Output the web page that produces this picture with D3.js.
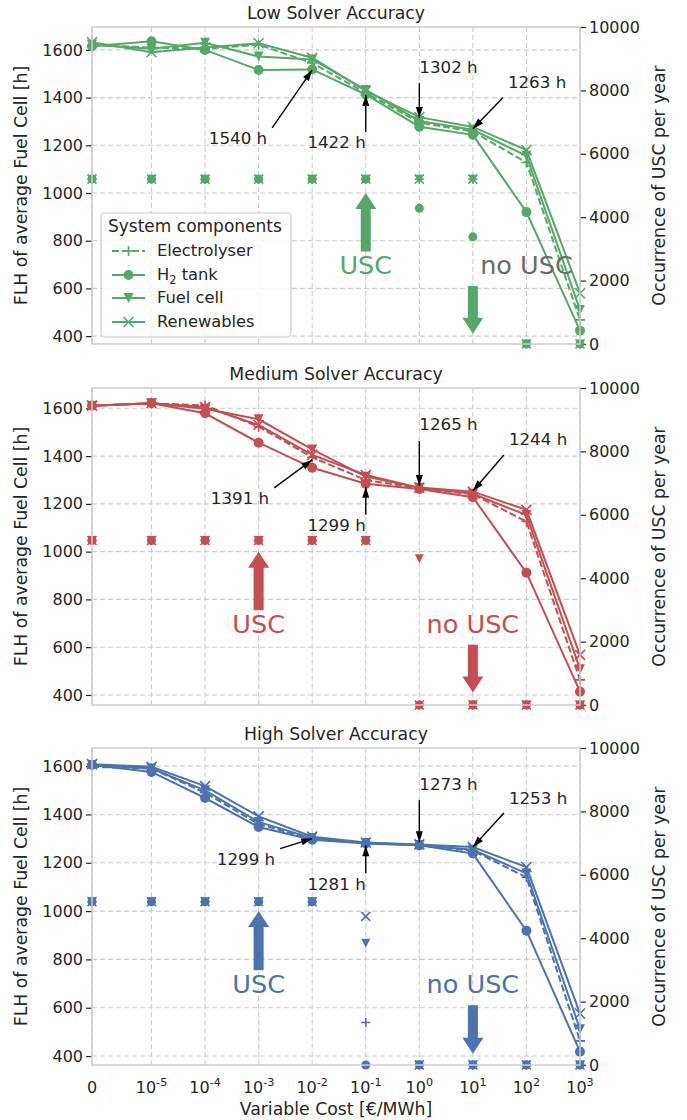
<!DOCTYPE html>
<html><head><meta charset="utf-8">
<script src="https://cdn.jsdelivr.net/npm/d3@7"></script>
<style>
body{margin:0;background:#fff}
svg{display:block}
text{font-family:"DejaVu Sans",sans-serif;fill:#262626}
</style>
</head><body>
<svg id="chart" width="687" height="1120"></svg>
<script>
// ---------------- DATA ----------------
const xValues = [0, 1e-5, 1e-4, 1e-3, 1e-2, 1e-1, 1, 10, 100, 1000];
const xTickBase = ["0", "10", "10", "10", "10", "10", "10", "10", "10", "10"];
const xTickExp = ["", "-5", "-4", "-3", "-2", "-1", "0", "1", "2", "3"];
const components = ["Electrolyser", "H2 tank", "Fuel cell", "Renewables"];
const panelTitles = ["Low Solver Accuracy", "Medium Solver Accuracy", "High Solver Accuracy"];
const leftTicks = [400, 600, 800, 1000, 1200, 1400, 1600];
const rightTicks = [0, 2000, 4000, 6000, 8000, 10000];

// FLH of average fuel cell [h]
const lowElectrolyser = [1620, 1610, 1605, 1622, 1545, 1420, 1295, 1258, 1128, 468];
const lowH2Tank       = [1615, 1636, 1600, 1516, 1518, 1413, 1278, 1244, 920, 423];
const lowFuelCell     = [1622, 1605, 1630, 1572, 1560, 1432, 1302, 1265, 1156, 510];
const lowRenewables   = [1632, 1590, 1610, 1628, 1567, 1428, 1318, 1277, 1180, 580];

const medElectrolyser = [1611, 1621, 1612, 1523, 1395, 1300, 1265, 1240, 1126, 463];
const medH2Tank       = [1611, 1621, 1579, 1456, 1351, 1284, 1262, 1228, 912, 414];
const medFuelCell     = [1611, 1621, 1598, 1554, 1428, 1314, 1267, 1242, 1153, 508];
const medRenewables   = [1611, 1621, 1605, 1530, 1405, 1321, 1268, 1251, 1175, 568];

const highElectrolyser = [1597, 1590, 1490, 1360, 1299, 1281, 1273, 1250, 1140, 463];
const highH2Tank       = [1605, 1576, 1468, 1348, 1295, 1280, 1272, 1238, 919, 418];
const highFuelCell     = [1605, 1590, 1500, 1369, 1302, 1282, 1274, 1254, 1156, 511];
const highRenewables   = [1608, 1597, 1517, 1392, 1308, 1284, 1276, 1265, 1182, 576];

// Occurrence of USC per year
const lowUscElectrolyser = [5200, 5200, 5200, 5200, 5200, 5200, 5200, 5200, 0, 0];
const lowUscH2Tank       = [5200, 5200, 5200, 5200, 5200, 5200, 4280, 3380, 0, 0];
const lowUscFuelCell     = [5200, 5200, 5200, 5200, 5200, 5200, 5200, 5200, 0, 0];
const lowUscRenewables   = [5200, 5200, 5200, 5200, 5200, 5200, 5200, 5200, 0, 0];

const medUscElectrolyser = [5190, 5190, 5190, 5190, 5190, 5190, 0, 0, 0, 0];
const medUscH2Tank       = [5190, 5190, 5190, 5190, 5190, 5190, 0, 0, 0, 0];
const medUscFuelCell     = [5190, 5190, 5190, 5190, 5190, 5190, 4610, 0, 0, 0];
const medUscRenewables   = [5190, 5190, 5190, 5190, 5190, 5190, 0, 0, 0, 0];

const highUscElectrolyser = [5150, 5150, 5150, 5150, 5150, 1340, 0, 0, 0, 0];
const highUscH2Tank       = [5150, 5150, 5150, 5150, 5150, 0, 0, 0, 0, 0];
const highUscFuelCell     = [5150, 5150, 5150, 5150, 5150, 3840, 0, 0, 0, 0];
const highUscRenewables   = [5150, 5150, 5150, 5150, 5150, 4690, 0, 0, 0, 0];

// annotations: x position, pointed value, label
const lowAnnotX = [1e-2, 1e-1, 1, 10];
const lowAnnotValue = [1516, 1411, 1314, 1269];
const lowAnnotLabel = ["1540 h", "1422 h", "1302 h", "1263 h"];
const medAnnotX = [1e-2, 1e-1, 1, 10];
const medAnnotValue = [1384, 1272, 1275, 1254];
const medAnnotLabel = ["1391 h", "1299 h", "1265 h", "1244 h"];
const highAnnotX = [1e-2, 1e-1, 1, 10];
const highAnnotValue = [1300, 1272, 1285, 1265];
const highAnnotLabel = ["1299 h", "1281 h", "1273 h", "1253 h"];

// USC / no USC markers (x category)
const uscArrowX = [1e-1, 1e-3, 1e-3];
const noUscArrowX = [10, 10, 10];
const noUscTextX = [100, 10, 10];

// ---------------- LAYOUT ----------------
const colors = ["#55a868", "#c44e52", "#4c72b0"];
const noUscTextColors = ["#6b6b6b", "#c44e52", "#4c72b0"];
const X0 = 92, X1 = 580;
const panelTop = [27, 388, 748];
const panelH = 317;
const leftDomains = [[367, 1696], [358, 1685], [363, 1675]];
// tail offsets of annotation arrows relative to head (px)
const annotTail = [
  [[-40, 58], [0, 37], [0, -35], [30, -31]],
  [[-38, 28], [0, 28], [0, -45], [31, -36]],
  [[-32, 10], [0, 28], [0, -42], [31, -34]]
];

const FS_TICK = 16, FS_LABEL = 17.3, FS_TITLE = 17.3, FS_ANN = 16.7, FS_LEG = 16.3, FS_BIG = 25.5;
const svg = d3.select("#chart");

function symlogT(v) {
  const lt = 1e-5, ls = 1 / (1 - 1 / 10);
  return v <= lt ? (v / lt) * ls : ls + Math.log10(v / lt);
}
const xLin = d3.scaleLinear().domain([0, symlogT(1000)]).range([X0, X1]);
const xs = v => xLin(symlogT(v));

const flh = [
  [lowElectrolyser, lowH2Tank, lowFuelCell, lowRenewables],
  [medElectrolyser, medH2Tank, medFuelCell, medRenewables],
  [highElectrolyser, highH2Tank, highFuelCell, highRenewables]
];
const usc = [
  [lowUscElectrolyser, lowUscH2Tank, lowUscFuelCell, lowUscRenewables],
  [medUscElectrolyser, medUscH2Tank, medUscFuelCell, medUscRenewables],
  [highUscElectrolyser, highUscH2Tank, highUscFuelCell, highUscRenewables]
];
const annX = [lowAnnotX, medAnnotX, highAnnotX];
const annV = [lowAnnotValue, medAnnotValue, highAnnotValue];
const annL = [lowAnnotLabel, medAnnotLabel, highAnnotLabel];

const markerTypes = ["plus", "circle", "tri", "x"];
function drawMarker(g, type, cx, cy, color, s) {
  s = s || 10;
  const h = s / 2;
  if (type === "circle") {
    g.append("circle").attr("cx", cx).attr("cy", cy).attr("r", h).attr("fill", color);
  } else if (type === "tri") {
    g.append("path").attr("d", `M${cx},${cy + h}L${cx - h},${cy - h}L${cx + h},${cy - h}Z`).attr("fill", color);
  } else if (type === "plus") {
    g.append("path").attr("d", `M${cx - h},${cy}H${cx + h}M${cx},${cy - h}V${cy + h}`).attr("stroke", color).attr("stroke-width", 1.6).attr("fill", "none");
  } else if (type === "x") {
    g.append("path").attr("d", `M${cx - h},${cy - h}L${cx + h},${cy + h}M${cx - h},${cy + h}L${cx + h},${cy - h}`).attr("stroke", color).attr("stroke-width", 1.6).attr("fill", "none");
  }
}

function arrowHead(g, x1, y1, x2, y2, len, wid, color) {
  const ang = Math.atan2(y2 - y1, x2 - x1);
  const bx = x2 - len * Math.cos(ang), by = y2 - len * Math.sin(ang);
  const nx = -Math.sin(ang) * wid / 2, ny = Math.cos(ang) * wid / 2;
  g.append("path").attr("d", `M${x2},${y2}L${bx + nx},${by + ny}L${bx - nx},${by - ny}Z`).attr("fill", color);
}

function fatArrow(g, x, yTail, yTip, color) {
  const dir = yTip < yTail ? -1 : 1;
  const headL = 16, headW = 21, bodyW = 10;
  const yBase = yTip - dir * headL;
  g.append("path").attr("d",
    `M${x - bodyW / 2},${yTail}L${x - bodyW / 2},${yBase}L${x - headW / 2},${yBase}L${x},${yTip}L${x + headW / 2},${yBase}L${x + bodyW / 2},${yBase}L${x + bodyW / 2},${yTail}Z`)
    .attr("fill", color);
}

for (let p = 0; p < 3; p++) {
  const top = panelTop[p], bot = top + panelH;
  const color = colors[p];
  const yL = d3.scaleLinear().domain(leftDomains[p]).range([bot, top]);
  const yR = d3.scaleLinear().domain([0, 10000]).range([bot, top]);
  const g = svg.append("g");

  // grid
  const grid = g.append("g").attr("stroke", "#cccccc").attr("stroke-width", 1.1).attr("stroke-dasharray", "5,3");
  xValues.forEach(v => grid.append("line").attr("x1", xs(v)).attr("x2", xs(v)).attr("y1", top).attr("y2", bot));
  leftTicks.forEach(v => grid.append("line").attr("x1", X0).attr("x2", X1).attr("y1", yL(v)).attr("y2", yL(v)));

  // title
  g.append("text").attr("x", (X0 + X1) / 2).attr("y", top - 8).attr("text-anchor", "middle").attr("font-size", FS_TITLE).text(panelTitles[p]);

  // left axis
  const la = g.append("g").attr("transform", `translate(${X0},0)`)
    .call(d3.axisLeft(yL).tickValues(leftTicks).tickSize(6).tickPadding(3).tickFormat(d3.format("d")));
  la.select(".domain").remove();
  la.selectAll(".tick line").attr("stroke", "#262626").attr("stroke-width", 1.2);
  la.selectAll(".tick text").attr("font-size", FS_TICK).attr("font-family", "DejaVu Sans").attr("fill", "#262626");

  // right axis
  const ra = g.append("g").attr("transform", `translate(${X1},0)`)
    .call(d3.axisRight(yR).tickValues(rightTicks).tickSize(6).tickPadding(3).tickFormat(d3.format("d")));
  ra.select(".domain").remove();
  ra.selectAll(".tick line").attr("stroke", "#262626").attr("stroke-width", 1.2);
  ra.selectAll(".tick text").attr("font-size", FS_TICK).attr("font-family", "DejaVu Sans").attr("fill", "#262626");

  // axis labels
  g.append("text").attr("transform", `translate(22,${(top + bot) / 2}) rotate(-90)`).attr("text-anchor", "middle")
    .attr("dominant-baseline", "middle").attr("font-size", FS_LABEL).text("FLH of average Fuel Cell [h]");
  g.append("text").attr("transform", `translate(660,${(top + bot) / 2}) rotate(-90)`).attr("text-anchor", "middle")
    .attr("dominant-baseline", "middle").attr("font-size", FS_LABEL).text("Occurrence of USC per year");

  // lines
  const line = d3.line().x((d, i) => xs(xValues[i])).y(d => yL(d));
  const series = flh[p];
  for (let s = 0; s < 4; s++) {
    const sg = g.append("g");
    sg.append("path").attr("d", line(series[s])).attr("fill", "none").attr("stroke", color).attr("stroke-width", 2)
      .attr("stroke-dasharray", s === 0 ? "7,3" : null);
    series[s].forEach((v, i) => drawMarker(sg, markerTypes[s], xs(xValues[i]), yL(v), color, 10));
  }
  // USC scatter
  for (let s = 0; s < 4; s++) {
    usc[p][s].forEach((v, i) => drawMarker(g, markerTypes[s], xs(xValues[i]), yR(v), color, 9));
  }

  // spines
  g.append("rect").attr("x", X0).attr("y", top).attr("width", X1 - X0).attr("height", panelH)
    .attr("fill", "none").attr("stroke", "#cccccc").attr("stroke-width", 1.5);

  // annotations
  for (let a = 0; a < 4; a++) {
    const hx = xs(annX[p][a]), hy = yL(annV[p][a]);
    const tx = hx + annotTail[p][a][0], ty = hy + annotTail[p][a][1];
    g.append("line").attr("x1", tx).attr("y1", ty).attr("x2", hx).attr("y2", hy).attr("stroke", "#000").attr("stroke-width", 1.4);
    arrowHead(g, tx, ty, hx, hy, 11, 7, "#000");
    let txt = g.append("text").attr("font-size", FS_ANN).attr("fill", "#262626").attr("dominant-baseline", "middle").text(annL[p][a]);
    if (a === 0) txt.attr("x", tx - 5).attr("y", ty + 12).attr("text-anchor", "end");
    else if (a === 1) txt.attr("x", tx).attr("y", ty + 12).attr("text-anchor", "end");
    else if (a === 2) txt.attr("x", tx).attr("y", ty - 15).attr("text-anchor", "start");
    else txt.attr("x", tx + 5).attr("y", ty - 14).attr("text-anchor", "start");
  }

  // USC arrows
  fatArrow(g, xs(uscArrowX[p]), yL(755), yL(1000), color);
  g.append("text").attr("x", xs(uscArrowX[p])).attr("y", yL(690)).attr("text-anchor", "middle").attr("dominant-baseline", "middle")
    .attr("font-size", FS_BIG).style("fill", color).text("USC");
  fatArrow(g, xs(noUscArrowX[p]), yL(610), yL(410), color);
  g.append("text").attr("x", xs(noUscTextX[p])).attr("y", yL(690)).attr("text-anchor", "middle").attr("dominant-baseline", "middle")
    .attr("font-size", FS_BIG).style("fill", noUscTextColors[p]).text("no USC");

  // legend
  if (p === 0) {
    const lg = g.append("g");
    lg.append("rect").attr("x", 101).attr("y", 213).attr("width", 190).attr("height", 124).attr("rx", 4)
      .attr("fill", "#fff").attr("fill-opacity", 0.8).attr("stroke", "#cccccc").attr("stroke-width", 1.2);
    lg.append("text").attr("x", 108).attr("y", 227).attr("dominant-baseline", "middle").attr("font-size", FS_LEG + 0.7).text("System components");
    const rowY = [251, 275, 298, 322];
    for (let s = 0; s < 4; s++) {
      lg.append("line").attr("x1", 112).attr("x2", 145).attr("y1", rowY[s]).attr("y2", rowY[s]).attr("stroke", color).attr("stroke-width", 2)
        .attr("stroke-dasharray", s === 0 ? "7,3" : null);
      drawMarker(lg, markerTypes[s], 128.5, rowY[s], color, 10);
      const t = lg.append("text").attr("x", 157).attr("y", rowY[s]).attr("dominant-baseline", "middle").attr("font-size", FS_LEG);
      if (s === 1) {
        t.append("tspan").text("H");
        t.append("tspan").attr("font-size", FS_LEG * 0.7).attr("dy", 5).text("2");
        t.append("tspan").attr("dy", -5).text(" tank");
      } else t.text(components[s]);
    }
  }

  // x tick labels on bottom panel
  if (p === 2) {
    xValues.forEach((v, i) => {
      const t = g.append("text").attr("x", xs(v)).attr("y", bot + 28).attr("text-anchor", "middle").attr("font-size", FS_TICK);
      t.append("tspan").text(xTickBase[i]);
      if (xTickExp[i]) t.append("tspan").attr("font-size", FS_TICK * 0.7).attr("dy", -7).text(xTickExp[i]);
    });
    g.append("text").attr("x", (X0 + X1) / 2).attr("y", bot + 50).attr("text-anchor", "middle").attr("font-size", FS_LABEL).text("Variable Cost [€/MWh]");
  }
}
</script>
</body></html>
